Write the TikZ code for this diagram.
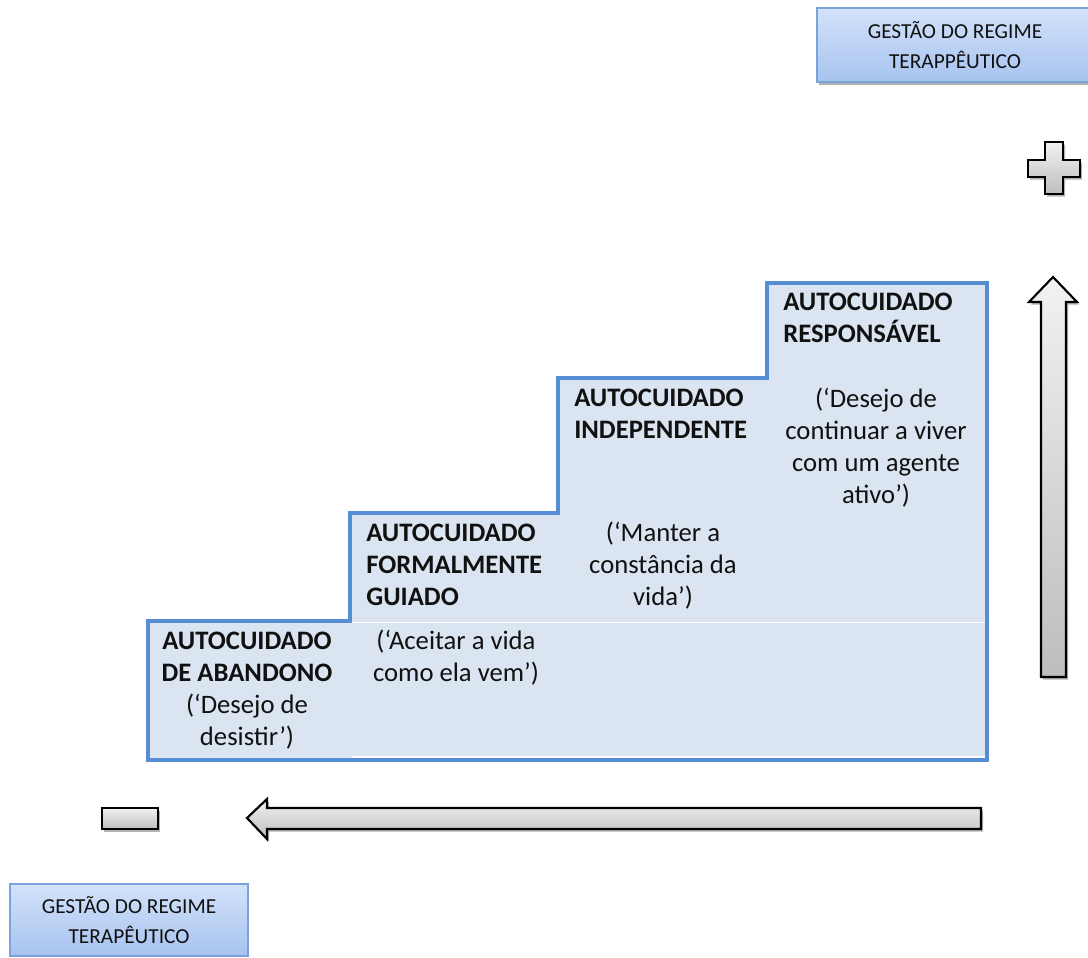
\documentclass[tikz,border=0pt]{standalone}
\usepackage{fontspec}
\setmainfont{Carlito}
\usetikzlibrary{shadows}
\definecolor{stepblue}{HTML}{558ED5}
\definecolor{stepfill}{HTML}{DBE5F1}
\definecolor{boxedge}{HTML}{7BA3DA}
\definecolor{boxtop}{HTML}{D3E2FA}
\definecolor{boxbot}{HTML}{A6C3EF}
\definecolor{txt}{HTML}{111111}
\definecolor{graytop}{HTML}{F2F2F2}
\definecolor{graybot}{HTML}{BDBDBD}
\tikzset{
  softshadow/.style={drop shadow={shadow xshift=1.5pt,shadow yshift=-2pt,opacity=0.3,fill=black}},
  gestbox/.style={draw=boxedge,line width=0.9pt,top color=boxtop,bottom color=boxbot,
    align=center,inner sep=0pt,font=\fontsize{16}{22.5}\selectfont,text=txt},
  grayshape/.style={draw=black,line width=1.6pt,line join=miter,top color=graytop,bottom color=graybot,softshadow},
  stagehead/.style={font=\fontsize{20}{24}\selectfont\bfseries,align=left,anchor=north west,inner sep=0pt,text=txt},
  stagenote/.style={font=\fontsize{20}{24}\selectfont,align=center,anchor=north,inner sep=0pt,text=txt},
  stairs/.style={draw=stepblue,line width=3pt,fill=stepfill,line join=miter},
  cellline/.style={draw=white,line width=0.8pt}
}
\begin{document}
\begin{tikzpicture}[x=0.75pt,y=-0.75pt]
\useasboundingbox (0,0) rectangle (1088,957);
\clip (0,0) rectangle (1088,957);

% management boxes
\node[gestbox,softshadow,minimum width=207pt,minimum height=55.5pt] (top) at (955,45)
  {GESTÃO DO REGIME\\TERAPPÊUTICO};
\node[gestbox,minimum width=178.5pt,minimum height=54pt] (bottom) at (129,920)
  {GESTÃO DO REGIME\\TERAPÊUTICO};

% plus sign
\path[grayshape] (1045,142) -- (1063,142) -- (1063,160) -- (1080,160) -- (1080,177) -- (1063,177)
  -- (1063,194) -- (1045,194) -- (1045,177) -- (1028,177) -- (1028,160) -- (1045,160) -- cycle;

% minus sign
\path[grayshape] (102,808) rectangle (158,829);

% up arrow
\path[grayshape] (1053,277) -- (1077,302) -- (1066,302) -- (1066,677) -- (1041,677)
  -- (1041,302) -- (1029,302) -- cycle;

% left arrow
\path[grayshape] (247,818) -- (267,799) -- (267,808) -- (981,808) -- (981,829)
  -- (267,829) -- (267,839) -- cycle;

% staircase
\path[stairs] (148,760) -- (148,621) -- (350,621) -- (350,513) -- (558,513) -- (558,378)
  -- (767,378) -- (767,283) -- (987,283) -- (987,760) -- cycle;
\path[cellline] (351.5,622.5) -- (985,622.5);
\path[cellline] (351.5,757) -- (985,757);

% texts
\node[stagenote] (s1) at (247,626.6)
  {\strut\textbf{AUTOCUIDADO}\\\textbf{DE ABANDONO}\\(‘Desejo de\\desistir’)};
\node[stagehead] (s2h) at (366,518.6) {\strut AUTOCUIDADO\\FORMALMENTE\\GUIADO};
\node[stagenote] (s2n) at (456,626.6) {\strut(‘Aceitar a vida\\como ela vem’)};
\node[stagehead] (s3h) at (574,383.6) {\strut AUTOCUIDADO\\INDEPENDENTE};
\node[stagenote] (s3n) at (663,518.6) {\strut(‘Manter a\\constância da\\vida’)};
\node[stagehead] (s4h) at (783,287.6) {\strut AUTOCUIDADO\\RESPONSÁVEL};
\node[stagenote] (s4n) at (876,384.6) {\strut(‘Desejo de\\continuar a viver\\com um agente\\ativo’)};
\end{tikzpicture}
\end{document}
